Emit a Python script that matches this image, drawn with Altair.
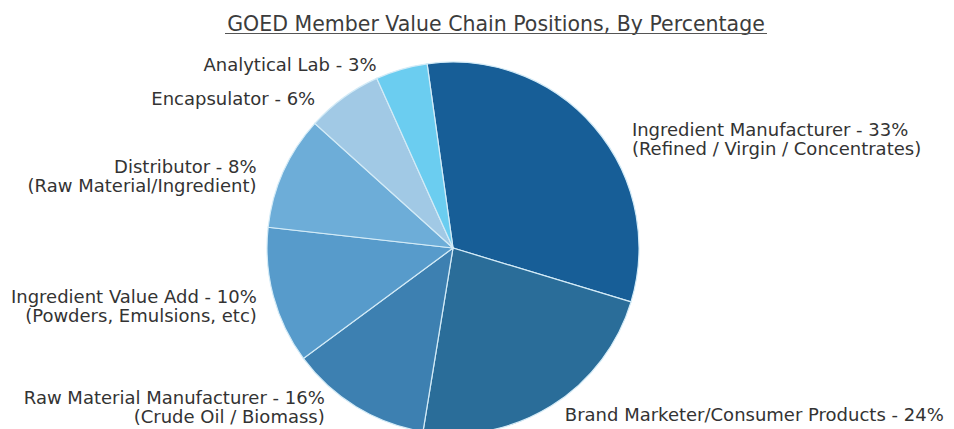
import math
import altair as alt
import pandas as pd

# ---- data ----
names = [
    "Ingredient Manufacturer",
    "Brand Marketer/Consumer Products",
    "Raw Material Manufacturer",
    "Ingredient Value Add",
    "Distributor",
    "Encapsulator",
    "Analytical Lab",
]
labels = [
    "Ingredient Manufacturer - 33%\n(Refined / Virgin / Concentrates)",
    "Brand Marketer/Consumer Products - 24%",
    "Raw Material Manufacturer - 16%\n(Crude Oil / Biomass)",
    "Ingredient Value Add - 10%\n(Powders, Emulsions, etc)",
    "Distributor - 8%\n(Raw Material/Ingredient)",
    "Encapsulator - 6%",
    "Analytical Lab - 3%",
]
# slice sizes as drawn (share of the circle, %)
shares = [31.9, 22.9, 12.3, 11.9, 9.9, 6.6, 4.5]
colors = ["#175E97", "#2A6D99", "#3D80B1", "#579BCB", "#6DADD8", "#A1C9E5", "#6BCDF0"]
title_text = "GOED Member Value Chain Positions, By Percentage"

# ---- layout / style ----
W, H = 938, 421
CX, CY = 445, 240
R = 186
LABEL_R = 200
start = 2 * math.pi - math.radians(8)
theta_scale = alt.Scale(domain=[0, sum(shares)], range=[start, start + 2 * math.pi])
FONT = "DejaVu Sans"
right_side = {"Ingredient Manufacturer", "Brand Marketer/Consumer Products"}
nudge = {
    "Ingredient Manufacturer": (27, 13),
    "Brand Marketer/Consumer Products": (6, -2),
    "Raw Material Manufacturer": (-24, -20),
    "Ingredient Value Add": (-3, -2),
    "Distributor": (-14, 2),
    "Encapsulator": (-20, 14),
    "Analytical Lab": (-21, 10),
}

df = pd.DataFrame({"name": names, "label": labels, "share": shares, "order": list(range(len(names)))})

base = (
    alt.Chart(df)
    .transform_stack(stack="share", groupby=[], as_=["start", "end"], sort=[alt.SortField("order")])
    .transform_calculate(mid="(datum.start + datum.end) / 2")
)

arcs = base.mark_arc(outerRadius=R, stroke="#D3EBF7", strokeWidth=1.2).encode(
    theta=alt.Theta("start:Q", scale=theta_scale, stack=None),
    theta2="end:Q",
    color=alt.Color("name:N", scale=alt.Scale(domain=names, range=colors), legend=None),
    x=alt.value(CX),
    y=alt.value(CY),
)

texts = []
for n in names:
    dx, dy = nudge[n]
    t = (
        base.transform_filter(alt.datum.name == n)
        .mark_text(
            radius=LABEL_R,
            align="left" if n in right_side else "right",
            baseline="middle",
            dx=dx,
            dy=dy,
            font=FONT,
            fontSize=18,
            lineBreak="\n",
            lineHeight=19,
            color="#333333",
        )
        .encode(
            theta=alt.Theta("mid:Q", scale=theta_scale, stack=None),
            text="label:N",
            x=alt.value(CX),
            y=alt.value(CY),
        )
    )
    texts.append(t)

title = alt.Chart(pd.DataFrame({"t": [title_text]})).mark_text(
    font=FONT, fontSize=20.5, color="#3c3c3c", align="center", baseline="alphabetic"
).encode(text="t:N", x=alt.value(488), y=alt.value(22.5))

underline = alt.Chart(pd.DataFrame({"t": [title_text]})).mark_rule(color="#555555", strokeWidth=1).encode(
    x=alt.value(217), x2=alt.value(759), y=alt.value(25.5)
)

chart = (
    alt.layer(arcs, *texts, title, underline)
    .properties(width=W, height=H, autosize="none", padding=0, background="white")
    .configure_view(strokeWidth=0)
)

chart.save("out.html", embed_options={"renderer": "svg", "actions": False})
